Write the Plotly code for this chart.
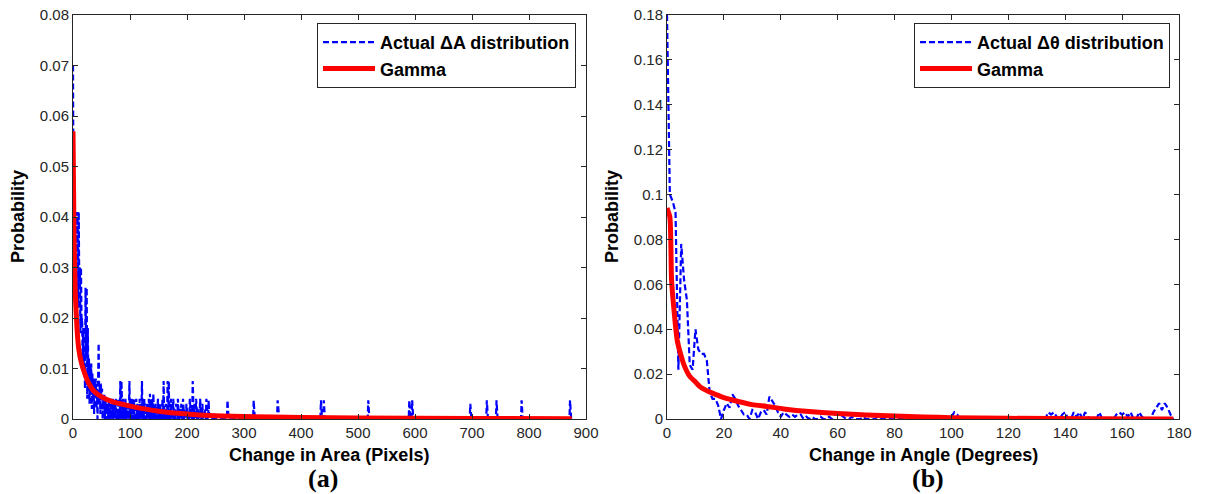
import numpy as np
import plotly.graph_objects as go

# ---- panel (a): change in area ----
# probability of each small area change, bins 0..59
area_dense = [0.070, 0.036, 0.043, 0.031, 0.041, 0.024, 0.041, 0.033, 0.041, 0.022,
              0.041, 0.027, 0.030, 0.017, 0.030, 0.019, 0.020, 0.011, 0.018, 0.009,
              0.014, 0.006, 0.026, 0.012, 0.026, 0.004, 0.018, 0.007, 0.012, 0.003,
              0.011, 0.006, 0.011, 0.002, 0.009, 0.004, 0.008, 0.001, 0.008, 0.005,
              0.008, 0.002, 0.006, 0.000, 0.005, 0.015, 0.003, 0.007, 0.001, 0.007,
              0.004, 0.006, 0.000, 0.004, 0.002, 0.005, 0.000, 0.004, 0.001, 0.003]
# remaining non-empty bins (pixels) and their probability
area_bins = [61, 63, 64, 66, 68, 70, 72, 74, 75, 77, 79, 81, 83, 85, 86, 88, 90, 92, 94, 96,
             99, 101, 103, 105, 107, 109, 111, 113, 115, 117, 119, 121, 123, 125, 127, 129,
             131, 133, 135, 137, 139, 141, 143, 145, 147, 149, 151, 153, 155, 157, 159, 161,
             163, 166, 168, 170, 172, 174, 176, 178, 181, 184, 187, 190, 193, 196, 199, 202,
             205, 208, 210, 213, 216, 220, 223, 227, 231, 234, 238, 271, 317, 359, 360, 435,
             440, 518, 590, 595, 697, 726, 743, 787, 872]
area_prob = [0.003, 0.004, 0.001, 0.004, 0.002, 0.004, 0.003, 0.001, 0.004, 0.002,
             0.004, 0.002, 0.0075, 0.0075, 0.003, 0.004, 0.002, 0.004, 0.003, 0.002,
             0.0075, 0.003, 0.004, 0.002, 0.004, 0.001, 0.004, 0.003, 0.002, 0.004,
             0.002, 0.0075, 0.003, 0.004, 0.001, 0.003, 0.002, 0.004, 0.005, 0.003,
             0.004, 0.005, 0.002, 0.003, 0.001, 0.004, 0.002, 0.003, 0.001, 0.004,
             0.0075, 0.002, 0.003, 0.0075, 0.0075, 0.002, 0.004, 0.001, 0.004, 0.002,
             0.003, 0.004, 0.002, 0.003, 0.004, 0.002, 0.003, 0.001, 0.004, 0.002,
             0.0075, 0.003, 0.004, 0.002, 0.004, 0.003, 0.002, 0.004, 0.0037, 0.0037,
             0.0037, 0.0037, 0.0025, 0.0037, 0.0037, 0.0037, 0.0037, 0.0037, 0.003, 0.0037,
             0.0037, 0.0037, 0.0037]
area_max = 875

# fitted gamma curve
gamma_a_x = [0, 1, 2, 4, 7, 10, 15, 20, 25, 36, 50, 70, 95, 120, 153, 200, 240, 300, 400, 500, 700, 875]
gamma_a_y = [0.057, 0.045, 0.035, 0.025, 0.018, 0.014, 0.011, 0.0092, 0.0077, 0.0056, 0.0044,
             0.0034, 0.0027, 0.0021, 0.0015, 0.0010, 0.0007, 0.0005, 0.0003, 0.0002, 0.0001, 0.00005]

# ---- panel (b): change in angle, one bin per degree 0..178 ----
angle_prob = [0.180, 0.100, 0.097, 0.092, 0.022, 0.078, 0.062, 0.053, 0.024, 0.022,
              0.040, 0.031, 0.029, 0.029, 0.026, 0.012, 0.009, 0.009, 0.006, 0.000,
              0.004, 0.007, 0.005, 0.011, 0.009, 0.006, 0.004, 0.002, 0.002, 0.000,
              0.004, 0.003, 0.000, 0.003, 0.004, 0.002, 0.010, 0.008, 0.006, 0.003,
              0.001, 0.003, 0.002, 0.001, 0.002, 0.001, 0.002, 0.002, 0.000, 0.001,
              0.000, 0.001, 0.000, 0.000, 0.001, 0.000, 0.000, 0.001, 0.000, 0.002,
              0.003, 0.002, 0.001, 0.000, 0.000, 0.001, 0.000, 0.000, 0.000, 0.001,
              0.000, 0.000, 0.000, 0.000, 0.001, 0.000, 0.000, 0.000, 0.000, 0.000,
              0.000, 0.000, 0.000, 0.000, 0.000, 0.000, 0.000, 0.000, 0.000, 0.000,
              0.000, 0.000, 0.000, 0.000, 0.000, 0.000, 0.000, 0.000, 0.000, 0.000,
              0.001, 0.003, 0.002, 0.000, 0.000, 0.000, 0.000, 0.000, 0.000, 0.000,
              0.000, 0.000, 0.000, 0.000, 0.000, 0.000, 0.000, 0.000, 0.000, 0.000,
              0.000, 0.000, 0.000, 0.000, 0.000, 0.000, 0.000, 0.000, 0.000, 0.000,
              0.000, 0.000, 0.000, 0.000, 0.003, 0.002, 0.003, 0.001, 0.000, 0.002,
              0.003, 0.000, 0.000, 0.003, 0.001, 0.003, 0.000, 0.003, 0.001, 0.000,
              0.000, 0.000, 0.003, 0.000, 0.000, 0.000, 0.000, 0.000, 0.002, 0.003,
              0.002, 0.003, 0.001, 0.003, 0.000, 0.000, 0.003, 0.001, 0.000, 0.000,
              0.000, 0.003, 0.005, 0.007, 0.004, 0.007, 0.005, 0.002, 0.000]

gamma_b_x = [0, 1, 1.6, 2.5, 3.6, 5, 6, 8, 10, 12, 15, 18, 20, 25, 30, 35, 41, 50, 60, 70,
             80, 90, 100, 120, 150, 178]
gamma_b_y = [0.094, 0.090, 0.062, 0.048, 0.035, 0.028, 0.024, 0.019, 0.0165, 0.014, 0.012,
             0.0105, 0.0095, 0.0078, 0.0064, 0.0056, 0.0045, 0.0033, 0.0024, 0.0018, 0.0013,
             0.0009, 0.0006, 0.0003, 0.0001, 0.0]

# full area histogram: empty bins are zero
area_x = np.arange(area_max + 1)
area_y = np.zeros(area_max + 1)
area_y[:len(area_dense)] = area_dense
area_y[area_bins] = area_prob

angle_x = np.arange(len(angle_prob))

BLUE = "#0000ff"
RED = "#ff0000"
AX = "#262626"
font = "Liberation Sans, Arial, sans-serif"

fig = go.Figure()
fig.add_trace(go.Scatter(x=area_x, y=area_y, mode="lines", name="<b>Actual ΔA distribution</b>",
                         line=dict(color=BLUE, width=2.2, dash="6px,3px"),
                         xaxis="x", yaxis="y", legend="legend"))
fig.add_trace(go.Scatter(x=gamma_a_x, y=gamma_a_y, mode="lines", name="<b>Gamma</b>",
                         line=dict(color=RED, width=5, shape="spline", smoothing=0.6),
                         xaxis="x", yaxis="y", legend="legend"))
fig.add_trace(go.Scatter(x=angle_x, y=angle_prob, mode="lines", name="<b>Actual Δθ distribution</b>",
                         line=dict(color=BLUE, width=2.2, dash="6px,3px"),
                         xaxis="x2", yaxis="y2", legend="legend2"))
fig.add_trace(go.Scatter(x=gamma_b_x, y=gamma_b_y, mode="lines", name="<b>Gamma</b>",
                         line=dict(color=RED, width=5, shape="spline", smoothing=0.6),
                         xaxis="x2", yaxis="y2", legend="legend2"))

W, H = 1205, 494


def px_x(p):
    return p / W


def px_y(p):
    return 1 - p / H


axis_style = dict(showline=True, linecolor=AX, linewidth=1, mirror="ticks", ticks="inside",
                  ticklen=5, tickcolor=AX, showgrid=False, zeroline=False, automargin=False,
                  tickfont=dict(family=font, size=15, color=AX))

legend_style = dict(xanchor="left", yanchor="top", bgcolor="white", bordercolor=AX,
                    borderwidth=1, itemwidth=52, tracegroupgap=0,
                    font=dict(family=font, size=18, color="black"))

fig.update_layout(
    width=W, height=H,
    margin=dict(l=0, r=0, t=0, b=0),
    paper_bgcolor="white", plot_bgcolor="white",
    xaxis=dict(domain=[px_x(73), px_x(586)], range=[0, 900], dtick=100, anchor="y", **axis_style),
    yaxis=dict(domain=[px_y(419), px_y(15)], range=[0, 0.08], dtick=0.01, anchor="x", **axis_style),
    xaxis2=dict(domain=[px_x(667), px_x(1179)], range=[0, 180], dtick=20, anchor="y2", **axis_style),
    yaxis2=dict(domain=[px_y(419), px_y(15)], range=[0, 0.18], dtick=0.02, anchor="x2", **axis_style),
    legend=dict(x=px_x(317), y=px_y(23), **legend_style),
    legend2=dict(x=px_x(914), y=px_y(23), **legend_style),
    showlegend=True,
)

labels = [
    ("<b>Probability</b>", 18, 217, -90, font, 18),
    ("<b>Probability</b>", 612, 217, -90, font, 18),
    ("<b>Change in Area (Pixels)</b>", 329, 455, 0, font, 18),
    ("<b>Change in Angle (Degrees)</b>", 923, 455, 0, font, 18),
    ("<b>(a)</b>", 323, 478, 0, "Liberation Serif, Times New Roman, serif", 26),
    ("<b>(b)</b>", 928, 478, 0, "Liberation Serif, Times New Roman, serif", 26),
]
for text, x, y, ang, fam, size in labels:
    fig.add_annotation(text=text, x=px_x(x), y=px_y(y), xref="paper", yref="paper",
                       xanchor="center", yanchor="middle", showarrow=False, textangle=ang,
                       font=dict(family=fam, size=size, color="black"))

# the page body has a default margin; drop it so the figure fills the window
fig.write_html("out.html", config={"displayModeBar": False},
               post_script="document.body.style.margin='0';document.body.style.overflow='hidden';")
